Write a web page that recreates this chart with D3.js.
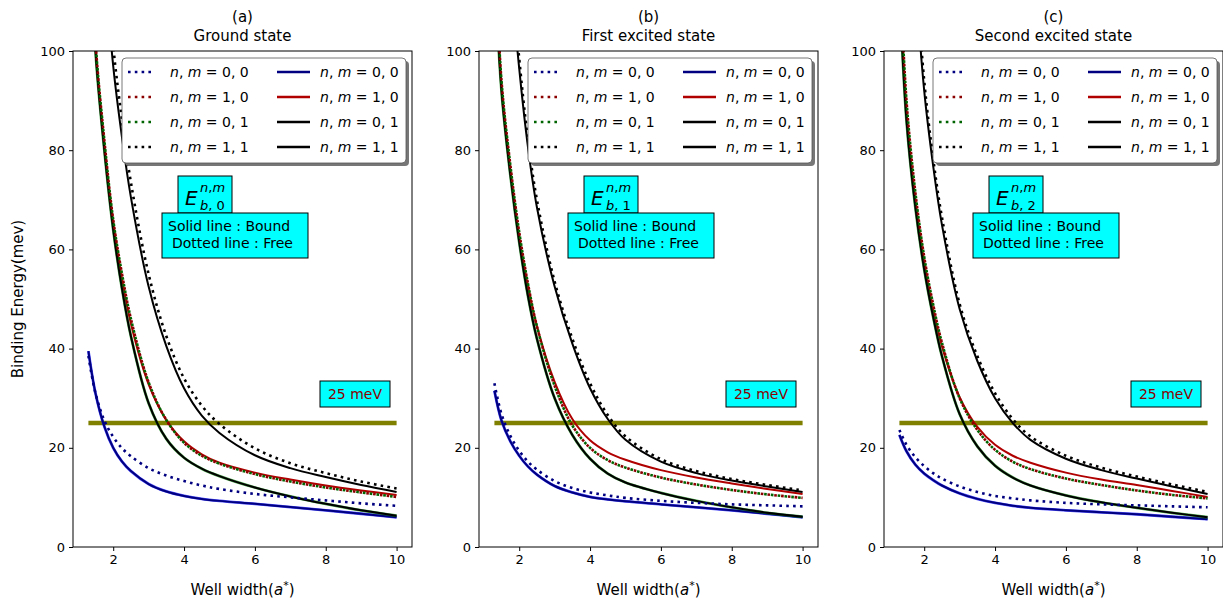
<!DOCTYPE html>
<html>
<head>
<meta charset="utf-8">
<script src="https://cdn.jsdelivr.net/npm/d3@7/dist/d3.min.js"></script>
<style>
  body { margin: 0; background: #fff; }
  text { font-family: "DejaVu Sans", sans-serif; }
</style>
</head>
<body>
<svg id="chart" width="1223" height="603"></svg>
<script>
// well width in units of a*
const wellWidth = [1.3, 1.5, 1.75, 2, 2.25, 2.5, 3, 3.5, 4, 4.5, 5, 6, 7, 8, 9, 10];

// binding energies (meV); free = dotted, bound = solid
// (a) ground state
const freeA00  = [38.5, 31, 25.5, 22.2, 19.9, 18.3, 15.9, 14.4, 13.3, 12.4, 11.7, 10.7, 10.0, 9.4, 8.8, 8.3];
const boundA00 = [39.5, 31, 24.3, 20, 17.2, 15.3, 12.7, 11.2, 10.3, 9.7, 9.3, 8.7, 8.05, 7.4, 6.7, 6.0];
const freeA10  = [137, 102, 82, 66, 55, 46, 33.2, 25.6, 21.0, 18.4, 16.8, 14.7, 13.2, 12.0, 11.0, 10.1];
const boundA10 = [135, 101, 81, 65.5, 54, 45, 32.8, 25.6, 21.3, 18.7, 17.0, 15.0, 13.6, 12.4, 11.4, 10.5];
const freeA01  = [137, 102, 82, 66, 55, 46, 33.2, 25.6, 21.0, 18.4, 16.8, 14.7, 13.2, 12.0, 11.0, 10.1];
const boundA01 = [133, 100, 80, 64, 52, 42.5, 29, 21.8, 18.0, 15.8, 14.3, 12.0, 10.2, 8.7, 7.4, 6.3];
const freeA11  = [210, 162, 124, 101, 86, 73.5, 55, 42.5, 34, 28.5, 24.8, 19.9, 16.9, 14.9, 13.2, 11.8];
const boundA11 = [200, 155, 119, 97, 82.5, 70.5, 52.5, 40.5, 32, 26.5, 23, 18.5, 15.9, 14.1, 12.5, 11.1];
// (b) first excited state
const freeB00  = [33, 26.8, 22.4, 19.4, 17.2, 15.6, 13.3, 11.9, 11.0, 10.4, 9.9, 9.3, 8.9, 8.6, 8.4, 8.2];
const boundB00 = [31.5, 25.5, 21.3, 18.4, 16.2, 14.6, 12.3, 11.0, 10.1, 9.6, 9.2, 8.6, 8.0, 7.4, 6.7, 6.0];
const freeB10  = [122, 94, 77, 63.5, 53, 44.5, 32.5, 24.5, 20.0, 17.5, 16.0, 14.0, 12.6, 11.5, 10.6, 9.9];
const boundB10 = [120, 93, 76, 62.5, 52.5, 44.5, 33.3, 25.8, 21.5, 19.1, 17.6, 15.5, 14.0, 12.8, 11.7, 10.7];
const freeB01  = [122, 94, 77, 63.5, 53, 44.5, 32.5, 24.5, 20.0, 17.5, 16.0, 14.0, 12.6, 11.5, 10.6, 9.9];
const boundB01 = [118, 92, 75, 61.5, 50.5, 42, 30, 22.6, 17.8, 14.8, 13.0, 10.9, 9.3, 8.0, 6.9, 6.1];
const freeB11  = [205, 156, 120, 98.5, 82, 70, 53.5, 42, 33, 26.6, 22.3, 17.7, 15.3, 13.7, 12.5, 11.4];
const boundB11 = [200, 152, 117, 96.5, 80.5, 68.5, 52.5, 41, 32, 25.8, 21.6, 17.2, 14.9, 13.4, 12.2, 11.1];
// (c) second excited state
const freeC00  = [23.6, 20.6, 18.1, 16.3, 14.9, 13.8, 12.2, 11.1, 10.3, 9.8, 9.4, 8.9, 8.6, 8.4, 8.2, 8.0];
const boundC00 = [22.6, 19.3, 16.6, 14.8, 13.5, 12.4, 10.8, 9.7, 8.9, 8.3, 7.9, 7.4, 7.0, 6.6, 6.1, 5.6];
const freeC10  = [118, 90, 71.5, 58.5, 49, 41.2, 30.0, 23.6, 19.6, 17.2, 15.7, 13.8, 12.5, 11.4, 10.5, 9.8];
const boundC10 = [115, 88, 70, 57.5, 48, 40.5, 30.2, 24.2, 20.6, 18.4, 17.0, 15.0, 13.6, 12.5, 11.3, 10.1];
const freeC01  = [118, 90, 71.5, 58.5, 49, 41.2, 30.0, 23.6, 19.6, 17.2, 15.7, 13.8, 12.5, 11.4, 10.5, 9.8];
const boundC01 = [113, 86, 68.5, 56, 46.5, 38.5, 26.8, 20.3, 16.4, 14.0, 12.4, 10.4, 9.0, 7.9, 6.9, 6.0];
const freeC11  = [210, 158, 119, 94, 78.5, 66.5, 49, 38.5, 31, 25.8, 22.3, 18.4, 16.0, 14.2, 12.6, 11.1];
const boundC11 = [205, 155, 116, 92, 77, 65, 48, 37.5, 30, 25, 21.6, 17.8, 15.5, 13.8, 12.2, 10.7];

const thermal = 25; // meV reference line
const xTicks = [2, 4, 6, 8, 10];
const yTicks = [0, 20, 40, 60, 80, 100];
const panelLetters = ['(a)', '(b)', '(c)'];
const panelTitles = ['Ground state', 'First excited state', 'Second excited state'];
const stateIndex = ['0', '1', '2'];
const seriesLabels = ['0, 0', '1, 0', '0, 1', '1, 1'];
const freeColors = ['#000080', '#8b0000', '#006400', '#000000'];
const boundColors = ['#000080', '#b00000', '#000000', '#000000'];
const haloColors = ['#0000ff', null, '#008000', null];

const freeSets = [[freeA00, freeA10, freeA01, freeA11], [freeB00, freeB10, freeB01, freeB11], [freeC00, freeC10, freeC01, freeC11]];
const boundSets = [[boundA00, boundA10, boundA01, boundA11], [boundB00, boundB10, boundB01, boundB11], [boundC00, boundC10, boundC01, boundC11]];

const svg = d3.select('#chart');
const panelLeft = [73, 479, 884];
const plotTop = 51, w = 339, h = 496;

const x = d3.scaleLinear().domain([0.865, 10.435]).range([0, w]);
const y = d3.scaleLinear().domain([0, 100]).range([h, 0]);
const line = d3.line().x((d, i) => x(wellWidth[i])).y(d => y(d)).curve(d3.curveCatmullRom.alpha(0.5));

panelLeft.forEach((left, p) => {
  const g = svg.append('g').attr('transform', `translate(${left},${plotTop})`);

  g.append('clipPath').attr('id', 'clip' + p)
    .append('rect').attr('width', w).attr('height', h);
  const plot = g.append('g').attr('clip-path', `url(#clip${p})`);

  // 25 meV line
  plot.append('line')
    .attr('x1', x(wellWidth[0])).attr('x2', x(wellWidth[wellWidth.length - 1]))
    .attr('y1', y(thermal)).attr('y2', y(thermal))
    .attr('stroke', '#808000').attr('stroke-width', 4.5);

  // bound (solid)
  boundSets[p].forEach((vals, k) => {
    if (haloColors[k]) {
      plot.append('path').attr('d', line(vals)).attr('fill', 'none')
        .attr('stroke', haloColors[k]).attr('stroke-width', 2.8).attr('opacity', 0.7);
    }
    plot.append('path').attr('d', line(vals)).attr('fill', 'none')
      .attr('stroke', boundColors[k]).attr('stroke-width', 2);
  });
  // free (dotted); the 0,1 dots sit between the 1,0 dots where the curves coincide
  freeSets[p].forEach((vals, k) => {
    plot.append('path').attr('d', line(vals)).attr('fill', 'none')
      .attr('stroke', freeColors[k]).attr('stroke-width', 2.6)
      .attr('stroke-dasharray', '2.6,4.2')
      .attr('stroke-dashoffset', k === 2 ? 3.4 : 0);
  });

  // axes
  g.append('g').attr('transform', `translate(0,${h})`)
    .call(d3.axisBottom(x).tickValues(xTicks).tickSize(4).tickPadding(4))
    .call(a => a.selectAll('text').attr('font-size', 13).attr('fill', '#000'));
  g.append('g')
    .call(d3.axisLeft(y).tickValues(yTicks).tickSize(4).tickPadding(4))
    .call(a => a.selectAll('text').attr('font-size', 13).attr('fill', '#000'));
  g.selectAll('.domain').remove();
  g.append('rect').attr('width', w).attr('height', h)
    .attr('fill', 'none').attr('stroke', '#000').attr('stroke-width', 1);

  // titles
  g.append('text').attr('x', w / 2).attr('y', -29).attr('text-anchor', 'middle')
    .attr('font-size', 15).text(panelLetters[p]);
  g.append('text').attr('x', w / 2).attr('y', -10).attr('text-anchor', 'middle')
    .attr('font-size', 15).text(panelTitles[p]);

  // x label
  const xl = g.append('text').attr('x', w / 2).attr('y', h + 48).attr('text-anchor', 'middle')
    .attr('font-size', 15);
  xl.append('tspan').text('Well width(');
  xl.append('tspan').attr('font-style', 'italic').text('a');
  xl.append('tspan').attr('dy', -6).attr('font-size', 11).text('*');
  xl.append('tspan').attr('dy', 6).text(')');

  // legend
  const lg = g.append('g').attr('transform', 'translate(49,7)');
  lg.append('rect').attr('x', 3).attr('y', 3).attr('width', 284).attr('height', 105)
    .attr('rx', 4).attr('fill', '#777');
  lg.append('rect').attr('width', 284).attr('height', 105).attr('rx', 4)
    .attr('fill', '#fff').attr('stroke', '#555').attr('stroke-width', 0.8);
  seriesLabels.forEach((lab, k) => {
    const ry = 14 + k * 25;
    lg.append('line').attr('x1', 6).attr('x2', 33).attr('y1', ry).attr('y2', ry)
      .attr('stroke', freeColors[k]).attr('stroke-width', 2.6).attr('stroke-dasharray', '2.6,4.2');
    lg.append('line').attr('x1', 155).attr('x2', 188).attr('y1', ry).attr('y2', ry)
      .attr('stroke', boundColors[k]).attr('stroke-width', 2.6);
    [48, 198].forEach(tx => {
      const t = lg.append('text').attr('x', tx).attr('y', ry + 5).attr('font-size', 14);
      t.append('tspan').attr('font-style', 'italic').text('n');
      t.append('tspan').text(', ');
      t.append('tspan').attr('font-style', 'italic').text('m');
      t.append('tspan').text(' = ' + lab);
    });
  });

  // E_b label box
  g.append('rect').attr('x', 105).attr('y', 125).attr('width', 54).attr('height', 37)
    .attr('fill', '#00ffff').attr('stroke', '#000').attr('stroke-width', 1);
  g.append('text').attr('x', 112).attr('y', 154).attr('font-size', 20)
    .attr('font-style', 'italic').text('E');
  const sup = g.append('text').attr('x', 127).attr('y', 141).attr('font-size', 13);
  sup.append('tspan').attr('font-style', 'italic').text('n');
  sup.append('tspan').text(',');
  sup.append('tspan').attr('font-style', 'italic').text('m');
  const sub = g.append('text').attr('x', 127).attr('y', 159).attr('font-size', 13);
  sub.append('tspan').attr('font-style', 'italic').text('b');
  sub.append('tspan').text(', ' + stateIndex[p]);

  // solid/dotted note
  g.append('rect').attr('x', 89).attr('y', 162).attr('width', 146).attr('height', 45)
    .attr('fill', '#00ffff').attr('stroke', '#000').attr('stroke-width', 1);
  g.append('text').attr('x', 95).attr('y', 180).attr('font-size', 14).text('Solid line : Bound');
  g.append('text').attr('x', 99).attr('y', 197).attr('font-size', 14).text('Dotted line : Free');

  // 25 meV box
  g.append('rect').attr('x', 247).attr('y', 330).attr('width', 70).attr('height', 26)
    .attr('fill', '#00ffff').attr('stroke', '#000').attr('stroke-width', 1);
  g.append('text').attr('x', 282).attr('y', 348).attr('text-anchor', 'middle')
    .attr('font-size', 14).attr('fill', '#8b0000').text('25 meV');
});

// y label
svg.append('text').attr('transform', `translate(23,${plotTop + h / 2}) rotate(-90)`)
  .attr('text-anchor', 'middle').attr('font-size', 15).text('Binding Energy(mev)');
</script>
</body>
</html>
